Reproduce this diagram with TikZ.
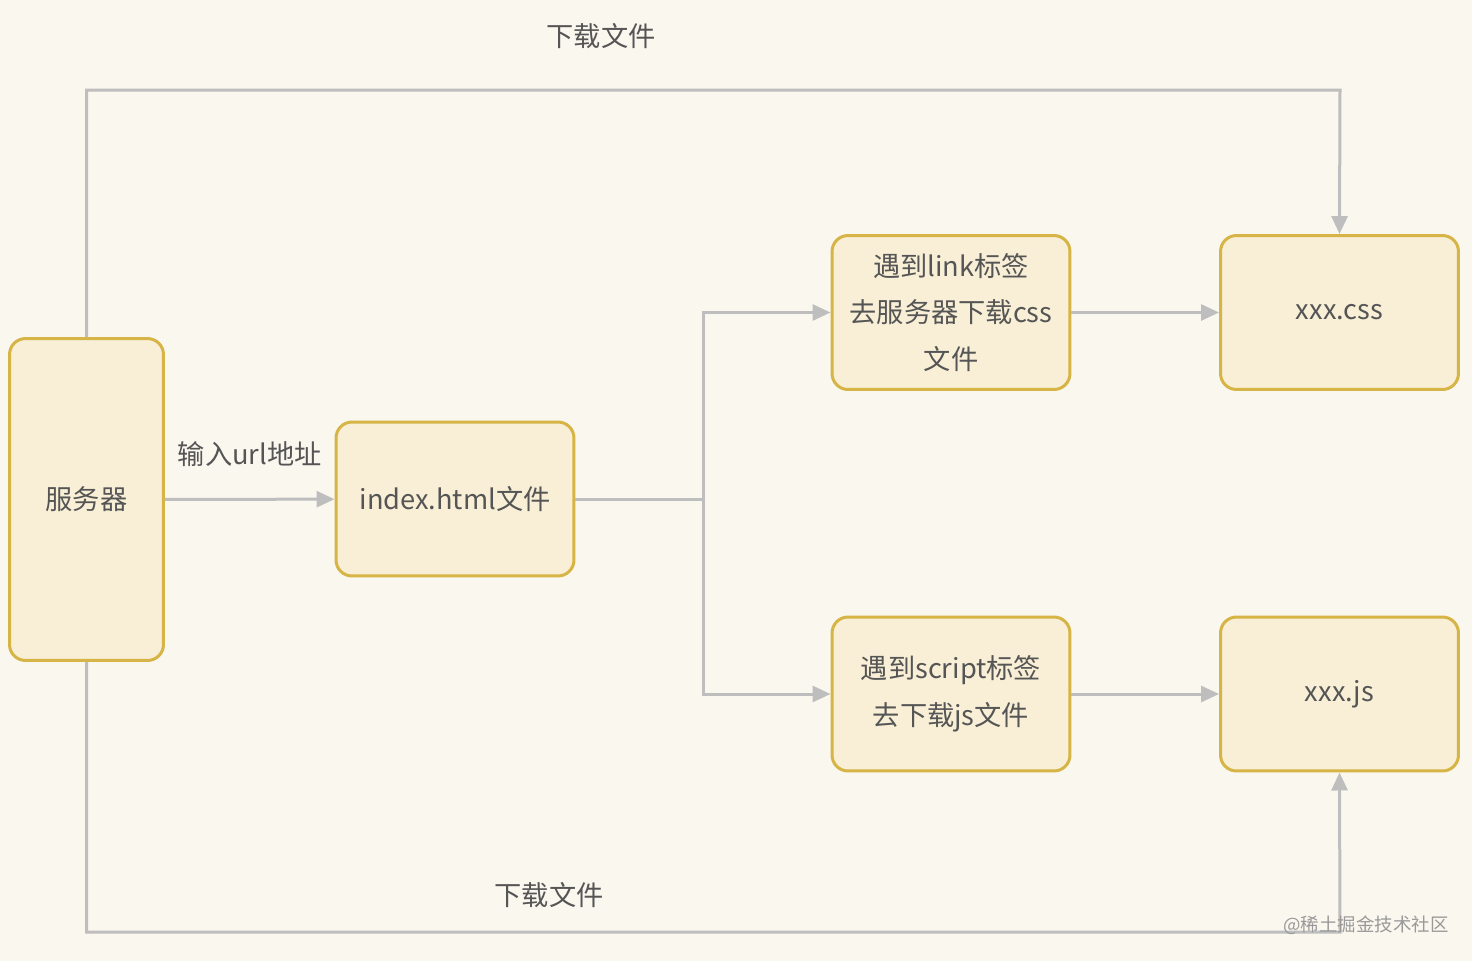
\documentclass[tikz,border=0pt]{standalone}
\usepackage{fontspec}
\setmainfont{Noto Sans CJK SC}
\usetikzlibrary{arrows.meta}

\definecolor{bgcol}{HTML}{FAF7EE}
\definecolor{boxline}{HTML}{D6B445}
\definecolor{boxfill}{HTML}{F8EFD6}
\definecolor{lnkcol}{HTML}{BEBEBE}
\definecolor{txtcol}{HTML}{555555}

\tikzset{
	box/.style={draw=boxline, fill=boxfill, line width=0.06cm, rounded corners=0.32cm,
		inner sep=0pt, minimum width=4.76cm, minimum height=3.08cm, align=center,
		text=txtcol, font=\fontsize{15.5}{26.5}\selectfont},
	lnk/.style={draw=lnkcol, line width=0.06cm},
	link/.style={lnk, -{Triangle[length=0.36cm,width=0.32cm]}},
	lbl/.style={text=txtcol, font=\fontsize{15.5}{18}\selectfont}
}

\begin{document}
\begin{tikzpicture}[x=0.02cm, y=-0.02cm]

\fill[bgcol] (0,0) rectangle (1472,961);
\useasboundingbox (0,0) rectangle (1472,961);

% Knoten
\node[box, minimum width=3.08cm, minimum height=6.44cm] (server) at (86.5,499.5) {服务器};
\node[box] (index) at (455,499) {index.html文件};
\node[box] (linkbox) at (951,312.5) {遇到link标签\\去服务器下载css\\文件};
\node[box] (css) at (1339.5,312.5) {xxx.css};
\node[box] (scriptbox) at (951,694) {遇到script标签\\去下载js文件};
\node[box] (js) at (1339.5,694) {xxx.js};

\coordinate (split) at (703,499);
\coordinate (toprun) at (1340,90);
\coordinate (botrun) at (1340,932);

% Verbindungen
\draw[link] (server) -- node[lbl, above=0.5cm] (urllbl) {输入url地址} (index);
\draw[lnk] (index) -- (split);
\draw[link] (split) |- (linkbox);
\draw[link] (split) |- (scriptbox);
\draw[link] (linkbox) -- (css);
\draw[link] (scriptbox) -- (js);

\draw[link] (server.north) |- (toprun) -- (css.north);
\node[lbl] (toplbl) at (601,36) {下载文件};

\draw[link] (server.south) |- (botrun) -- (js.south);
\node[lbl] (botlbl) at (549,895) {下载文件};

\node[text=gray!80, font=\fontsize{10.5}{12}\selectfont] (mark) at (1366,925) {@稀土掘金技术社区};

\end{tikzpicture}
\end{document}
